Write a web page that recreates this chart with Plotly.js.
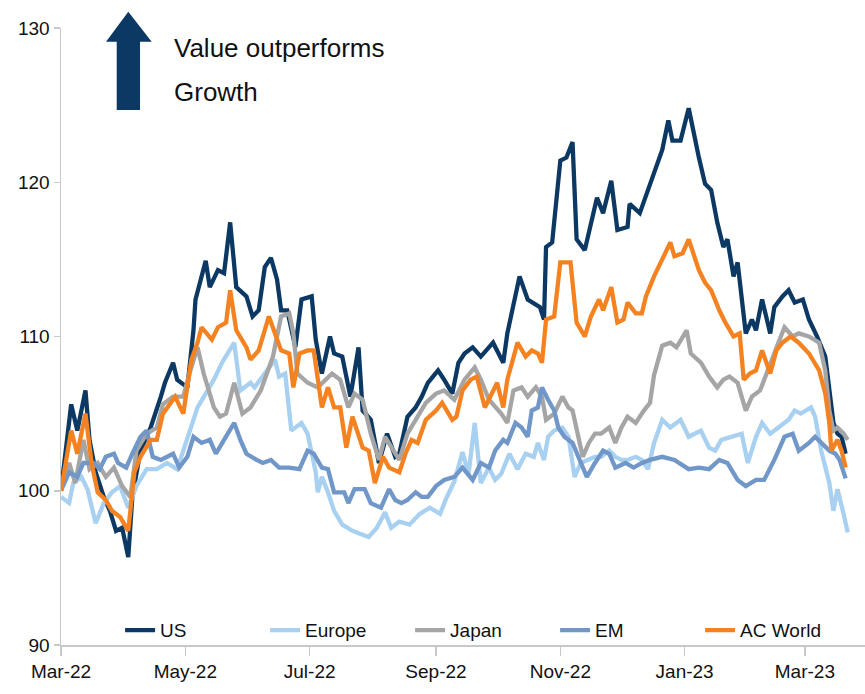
<!DOCTYPE html>
<html>
<head>
<meta charset="utf-8">
<script src="https://cdn.plot.ly/plotly-3.0.1.min.js"></script>
<style>html,body{margin:0;padding:0;background:#fff;}#chart{width:865px;height:694px;}</style>
</head>
<body>
<div id="chart"></div>
<script>
// Day offsets from 2022-03-01 and index values (start = 100)
const usDays = [0,5,8,12,14,17,21,24,27,30,33,35,39,44,49,51,55,57,62,65,66,71,73,77,80,83,86,91,94,97,100,103,106,108,111,115,118,123,125,128,132,134,138,142,146,148,152,156,160,164,166,170,174,177,180,185,188,192,195,198,202,206,212,217,219,222,225,229,235,237,238,241,245,248,251,253,257,263,266,270,273,278,279,284,291,295,298,300,304,308,313,316,319,322,325,327,330,332,336,339,341,344,348,350,354,357,360,364,367,371,375,377,379,381,383,385];
const usVals = [100,105.6,103.9,106.5,103.3,101.2,99.6,98.7,97.4,97.6,95.7,99.6,102.6,104.1,106.1,107,108.3,107.2,106.7,110.4,112.4,114.9,113.2,114.3,114.1,117.4,113.2,112.6,111.3,111.7,114.5,115.1,113.7,111.7,111.7,109.3,112.4,112.6,109.8,107.6,110,108.9,108.7,106.1,109.3,105.2,104.6,101.8,103.7,102.2,102.4,104.8,105.4,106.1,107,107.8,107.2,106.3,108.3,108.9,109.3,108.7,109.6,108.3,110.2,111.9,113.9,112.4,111.9,111.1,115.8,116.1,121.4,121.6,122.6,116.3,115.6,119,118,120.1,116.9,117.1,118.6,118,120.6,122.1,124,122.7,122.7,124.8,121.6,119.9,119.5,117.4,115.8,116.3,113.9,114.8,110.2,111.1,110.4,112.4,110.2,111.9,112.6,113,112.2,112.4,111.1,110,108.7,106.5,104.4,103.7,103.5,102.4];

const euDays = [0,4,6,10,13,17,21,25,29,33,37,42,47,52,57,62,67,71,75,79,83,85,88,93,95,100,105,107,110,113,118,121,125,126,128,131,134,138,143,147,151,155,159,162,166,171,176,181,186,189,193,197,200,203,206,210,213,216,220,224,228,232,234,237,239,242,246,249,252,255,259,262,265,269,272,275,278,282,285,288,291,295,299,304,308,314,318,321,324,329,334,337,341,344,348,352,357,360,363,368,370,373,377,379,381,384,386];
const euVals = [99.6,99.2,100.5,100.9,100.1,97.9,99.2,99.9,100.3,98.9,100.3,101.4,101.4,101.8,101.4,103.3,105.4,106.3,107.2,108.3,109.1,109.6,106.5,107,106.7,107.6,108.5,107.4,107.6,103.9,104.4,103.7,101.2,99.9,100.9,99.9,98.7,97.8,97.4,97.2,97.0,97.6,98.6,97.6,98.0,97.8,98.5,98.9,98.5,99.5,100.6,102.5,101.1,104.4,100.5,101.5,100.7,101.1,102.4,101.4,102.4,102.2,103.1,102,103.5,103.9,104.1,103.5,100.9,101.8,102,102.2,102.2,102.6,102.2,102,102,102.2,102,101.4,103.1,104.6,104.1,104.6,103.5,103.9,102.8,102.6,103.3,103.5,103.7,101.8,103.5,104.4,103.7,104.1,104.6,105.2,105,105.4,104.8,102.6,100.5,98.7,100.1,98.5,97.3];

const jpDays = [0,4,7,11,14,18,22,26,30,34,37,42,47,50,55,60,63,67,70,75,78,81,85,89,93,98,104,108,112,114,116,121,126,130,133,137,141,144,148,152,156,159,163,166,170,174,179,184,188,193,196,198,203,206,210,216,219,222,226,229,233,236,238,242,246,249,251,254,256,259,262,265,269,272,275,278,282,286,289,291,295,299,302,307,309,314,318,322,325,328,332,336,339,343,347,352,355,359,362,367,372,375,377,379,381,384,386];
const jpVals = [100,101.8,100.5,103.3,101.4,101.8,100.9,101.5,100.3,99.6,102.6,103.7,104.1,105.6,106.1,106.1,107.6,109.3,107.6,105.4,104.8,105,107,105,105.4,106.5,108.7,111.3,111.5,110.2,107.6,107,106.7,107.2,107.6,107.2,105.4,106.3,105.9,103.7,102,103.5,102.6,102,103.7,104.6,105.7,106.3,106.5,105.9,106.7,107.2,108,107.2,105.9,105,104.4,106.5,106.7,106.1,106.7,106.1,104.6,105,106.1,105.4,105.2,103.5,102.2,103.1,103.7,103.7,104.1,103.1,104.1,104.8,104.4,105.2,105.7,107.5,109.4,109.6,109.3,110.4,108.9,108.3,107.4,106.7,107.2,107.4,107,105.2,106.1,106.5,107.8,109.6,110.6,110,110.2,110,109.6,107.8,105.2,103.9,104.1,103.7,103.3];

const emDays = [0,4,8,11,16,19,22,26,28,32,35,39,42,45,49,52,55,58,62,65,69,73,76,80,85,88,91,96,99,103,107,112,117,121,124,128,131,134,139,141,144,149,152,157,161,164,167,170,174,177,180,184,188,193,197,202,206,210,213,217,219,223,226,229,231,234,236,239,242,244,247,251,255,258,262,266,269,272,277,281,285,289,295,301,308,313,318,323,327,332,336,341,345,350,355,359,362,367,370,373,377,380,382,385];
const emVals = [100,101.2,100.9,101.8,101.8,101.4,102.2,102.4,101.8,101.5,102.4,103.5,103.9,102.2,102,102.2,102.4,101.5,102.2,103.5,103.1,103.3,102.4,103.3,104.4,103.3,102.4,102,101.8,102,101.5,101.5,101.4,102.6,102.4,101.5,101.4,99.9,99.9,99.2,100.1,100.1,99.2,98.9,100.1,99.4,99.2,99.4,99.9,99.6,99.6,100.3,100.7,100.9,101.5,100.7,101.8,101.5,102.6,103.3,103.1,104.4,104.1,103.5,105.2,105.4,106.7,105.9,105.2,104.1,103.5,103.1,101.8,100.9,101.8,102.6,102.4,101.5,101.8,101.5,101.8,102,102.2,102,101.4,101.5,101.4,102,101.8,100.7,100.3,100.7,100.7,102,103.5,103.7,102.6,103.1,103.5,103.1,102.6,102.4,102,100.8];

const acwDays = [0,5,8,12,15,18,22,25,29,33,36,39,44,47,50,56,60,64,67,69,74,77,81,83,86,91,93,97,102,105,108,112,114,117,121,124,128,131,134,137,140,143,148,151,154,158,161,166,169,172,175,179,184,187,192,194,197,201,204,208,214,217,219,224,228,231,234,236,238,242,245,250,253,257,260,264,266,270,273,276,278,282,285,287,291,295,299,301,305,308,313,316,319,323,326,330,333,335,338,341,344,348,351,354,358,362,367,372,375,377,378,381,383,385];
const acwVals = [100,103.9,102.4,105,101.8,99.9,99.4,98.7,98.3,97.4,101.2,102.2,103.3,103.3,105,106.1,105,108.5,109.6,110.6,109.8,110.6,110.9,113,110.4,109.3,108.5,109.1,111.3,110.2,109.1,108.9,106.7,108.9,109.1,109.1,105.4,106.7,105.4,105.4,102.8,104.8,102.8,102.6,100.5,102.2,101.5,101.2,102.4,103.3,103.1,104.6,105.2,105.7,104.6,104.8,106.5,107.2,107.4,105.4,107,105.4,107.2,109.6,108.7,109.1,108.9,108.3,111.1,111.3,114.8,114.8,110.9,110,111.3,112.4,111.7,113.2,110.9,111.1,112.2,111.5,111.5,112.6,113.9,115,116.1,115.2,115.4,116.3,114.3,113.5,113,111.7,110.9,110,110.2,107.2,107.6,107.8,109.1,107.6,109.1,109.6,110,109.6,108.9,107.8,106.3,104.4,102.6,103.3,102.6,101.5];

const seriesNames = ['US','Europe','Japan','EM','AC World'];
const seriesColors = ['#0c3864','#a8d0f0','#a5a5a5','#7197c9','#f58220'];
const yTicks = [90,100,110,120,130];
const noteLines = ['Value outperforms', 'Growth'];

const START = Date.UTC(2022, 2, 1);
function toDate(d) { return new Date(START + d * 86400000).toISOString().slice(0, 10); }

const FONT = "'Liberation Sans', Arial, sans-serif";
const allDays = [usDays, euDays, jpDays, emDays, acwDays];
const allVals = [usVals, euVals, jpVals, emVals, acwVals];

const traces = seriesNames.map((name, i) => ({
  type: 'scatter', mode: 'lines', name: name,
  x: allDays[i].map(toDate), y: allVals[i],
  line: {color: seriesColors[i], width: 4.3, shape: 'linear'},
  hoverinfo: 'skip'
}));

const layout = {
  width: 865, height: 694,
  margin: {l: 61, r: 0, t: 28, b: 49, pad: 0},
  paper_bgcolor: '#ffffff', plot_bgcolor: '#ffffff',
  showlegend: true,
  font: {family: FONT, size: 19, color: '#111111'},
  xaxis: {
    type: 'date', range: ['2022-03-01', '2023-03-30 12:00'],
    tick0: '2022-03-01', dtick: 'M2', tickformat: '%b-%y',
    ticks: 'outside', ticklen: 9, tickwidth: 1.5, tickcolor: '#c8c8c8',
    showline: true, linecolor: '#c8c8c8', linewidth: 1.5,
    showgrid: false, zeroline: false,
    tickfont: {family: FONT, size: 19, color: '#111111'}
  },
  yaxis: {
    range: [90, 130], tickvals: yTicks,
    ticks: 'outside', ticklen: 6, tickwidth: 1.5, tickcolor: '#c8c8c8',
    showline: true, linecolor: '#c8c8c8', linewidth: 1.5,
    showgrid: false, zeroline: false,
    tickfont: {family: FONT, size: 19, color: '#111111'}
  },
  legend: {
    orientation: 'h', x: 0.0735, y: 0.024, xanchor: 'left', yanchor: 'middle',
    bgcolor: 'rgba(0,0,0,0)', font: {family: FONT, size: 19, color: '#111111'},
    entrywidth: 100, entrywidthmode: 'pixels', tracegroupgap: 0
  },
  shapes: [{
    type: 'path', xref: 'paper', yref: 'paper',
    path: 'M 0.0693 0.8671 L 0.0693 0.9778 L 0.056 0.9778 L 0.0837 1.0264 L 0.1128 0.9778 L 0.0983 0.9778 L 0.0983 0.8671 Z',
    fillcolor: '#0c3864', line: {width: 0}
  }],
  annotations: [
    {xref: 'paper', yref: 'paper', x: 0.138, y: 0.9676, xanchor: 'left', yanchor: 'middle',
     align: 'left', showarrow: false, text: noteLines[0],
     font: {family: FONT, size: 26, color: '#111111'}},
    {xref: 'paper', yref: 'paper', x: 0.138, y: 0.8963, xanchor: 'left', yanchor: 'middle',
     align: 'left', showarrow: false, text: noteLines[1],
     font: {family: FONT, size: 26, color: '#111111'}}
  ]
};

Plotly.newPlot('chart', traces, layout, {displayModeBar: false, staticPlot: true});
</script>
</body>
</html>
